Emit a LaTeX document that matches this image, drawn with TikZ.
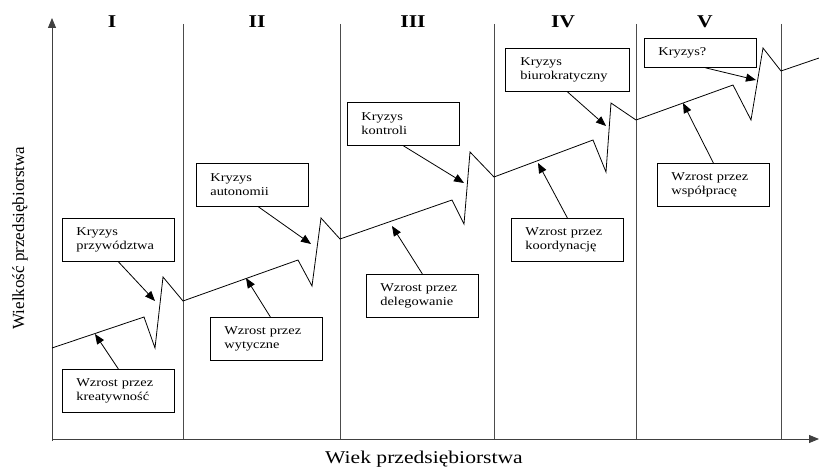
\documentclass[tikz,border=0pt]{standalone}
\usepackage{fontspec}
\setmainfont{Liberation Serif}
\newfontfamily\widefont[FakeStretch=1.2]{Liberation Serif}
\usetikzlibrary{arrows.meta}
\tikzset{
	phasebox/.style={draw, line width=0.8pt, anchor=north west, align=left,
		inner xsep=14pt, inner ysep=2pt, text width=84pt, minimum height=43pt,
		font=\widefont\fontsize{12}{14}\selectfont},
	pointer/.style={-{Triangle[length=10pt,width=8pt]}, line width=0.8pt},
	axis/.style={-{Triangle[length=10pt,width=8pt]}, line width=0.9pt, black!75},
	divider/.style={line width=1pt, black!70},
	numeral/.style={font=\widefont\bfseries\fontsize{18}{20}\selectfont}
}
\begin{document}
\begin{tikzpicture}[x=1pt,y=-1pt]
		\useasboundingbox (0,0) rectangle (819,468);
		% Axes
		\coordinate (O) at (52,439);
		\coordinate (ytop) at (52,18);
		\coordinate (xend) at (819,439);
		\draw[axis] (52,441) -- (ytop);
		\draw[axis] (O) -- (xend);
		\node[font=\widefont\fontsize{18}{20}\selectfont] (xlab) at (424,459) {Wiek przedsiębiorstwa};
		\node[rotate=90, font=\fontsize{17}{19}\selectfont] (ylab) at (20,238) {Wielkość przedsiębiorstwa};
		% Phases
		\foreach \x in {183,340,494,636,781}{
		\draw[divider] (\x,24) -- (\x,439);
		}
		\foreach \x/\r in {112/I,257/II,413/III,563/IV,705/V}{
		\node[numeral] (n\r) at (\x,22) {\r};
		}
		% Growth curve
		\draw[line width=0.8pt] (52,348) -- (144,317) -- (155,348) -- (163,277) -- (183,301)
			-- (298,260) -- (312,286) -- (321,218) -- (340,239)
			-- (452,200) -- (464,224) -- (470,152) -- (494,177)
			-- (593,140) -- (606,172) -- (611,103) -- (636,120)
			-- (733,85) -- (751,120) -- (763,48) -- (781,71) -- (819,58);
		% Arrow tips
		\coordinate (t1) at (155,301);
		\coordinate (t2) at (95,334);
		\coordinate (t3) at (311,244);
		\coordinate (t4) at (246,278);
		\coordinate (t5) at (464,183);
		\coordinate (t6) at (392,226);
		\coordinate (t7) at (606,126);
		\coordinate (t8) at (538,163);
		\coordinate (t9) at (756,80);
		\coordinate (t10) at (683,103);
		% Crises
		\node[phasebox] (kp) at (62,218) {Kryzys\\przywództwa};
		\node[phasebox] (ka) at (196,163) {Kryzys\\autonomii};
		\node[phasebox] (kk) at (347,102) {Kryzys\\kontroli};
		\node[phasebox, text width=94pt, inner xsep=15pt] (kb) at (505,48) {Kryzys\\biurokratyczny};
		\node[phasebox, minimum height=29pt] (kq) at (644,38) {Kryzys?};
		% Growth
		\node[phasebox] (wk) at (62,369) {Wzrost przez\\kreatywność};
		\node[phasebox] (ww) at (210,317) {Wzrost przez\\wytyczne};
		\node[phasebox] (wd) at (366,274) {Wzrost przez\\delegowanie};
		\node[phasebox] (wko) at (511,218) {Wzrost przez\\koordynację};
		\node[phasebox] (ws) at (657,163) {Wzrost przez\\współpracę};
		% Pointers
		\draw[pointer] (kp.south) -- (t1);
		\draw[pointer] (wk.north) -- (t2);
		\draw[pointer] (ka.south) ++(6,0) -- (t3);
		\draw[pointer] (ww.north) ++(4,0) -- (t4);
		\draw[pointer] (kk.south) -- (t5);
		\draw[pointer] (wd.north) -- (t6);
		\draw[pointer] (kb.south) -- (t7);
		\draw[pointer] (wko.north) -- (t8);
		\draw[pointer] (kq.south) ++(5,0) -- (t9);
		\draw[pointer] (ws.north) -- (t10);
\end{tikzpicture}
\end{document}
